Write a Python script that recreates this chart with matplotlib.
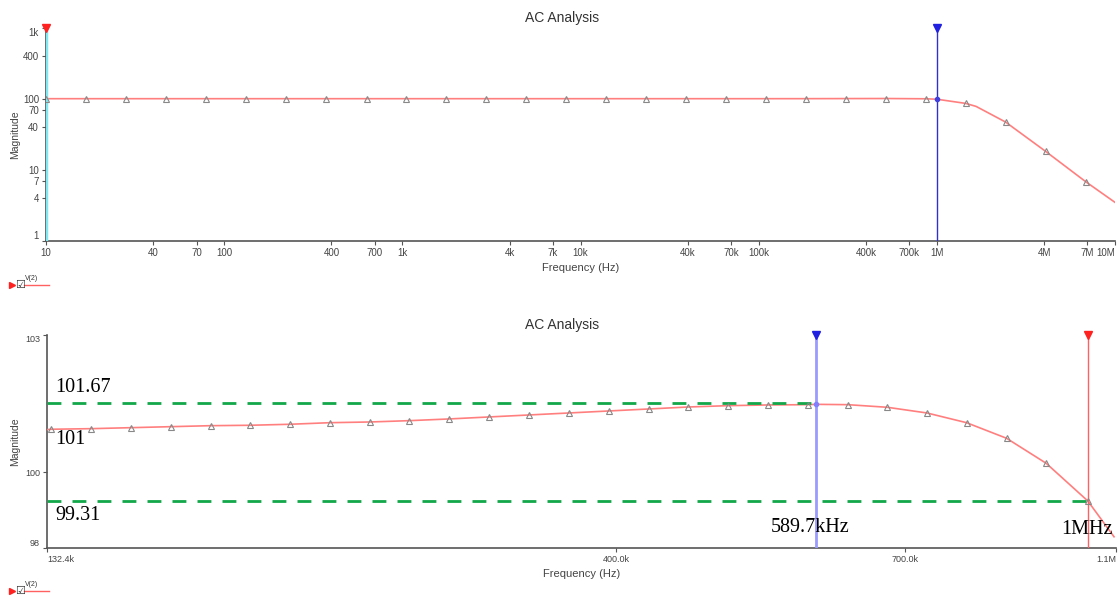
import matplotlib.pyplot as plt
from matplotlib.lines import Line2D
from matplotlib.ticker import NullLocator

plt.rcParams['font.family'] = ['Liberation Sans', 'DejaVu Sans']

# ---- top panel: full sweep (log-log) ----
top_marker_freq = [10.04, 16.86, 28.3, 47.3, 79.5, 133, 223, 375, 630, 1048, 1760, 2954,
                   4942, 8299, 13.87e3, 23.27e3, 39.08e3, 65.64e3, 109.8e3, 184.3e3,
                   309.5e3, 517.8e3, 869.6e3, 1.452e6, 2.43e6, 4.08e6, 6.85e6]
top_marker_mag = [101.0, 101.0, 101.0, 101.0, 101.0, 101.0, 101.0, 101.0, 101.0, 101.0,
                  101.0, 101.0, 101.0, 101.0, 101.0, 101.0, 101.0, 101.0, 101.02, 101.09,
                  101.35, 101.58, 100.7, 86.7, 47.4, 18.3, 6.84]
# extra trace points between markers
top_extra_freq = [10.0, 1.0e6, 1.66e6, 10.0e6]
top_extra_mag = [101.0, 99.3, 78.7, 3.5]

top_xticks = [10, 40, 70, 100, 400, 700, 1e3, 4e3, 7e3, 10e3, 40e3, 70e3, 100e3,
              400e3, 700e3, 1e6, 4e6, 7e6, 10e6]
top_xlabels = ['10', '40', '70', '100', '400', '700', '1k', '4k', '7k', '10k', '40k',
               '70k', '100k', '400k', '700k', '1M', '4M', '7M', '10M']
top_yticks = [1, 4, 7, 10, 40, 70, 100, 400, 1000]
top_ylabels = ['1', '4', '7', '10', '40', '70', '100', '400', '1k']

# ---- bottom panel: zoom around the peak ----
bot_marker_freq = [133.4e3, 144.2e3, 155.8e3, 168.3e3, 181.9e3, 196.5e3, 212.2e3, 229.3e3,
                   247.7e3, 267.6e3, 289.0e3, 312.3e3, 337.5e3, 364.7e3, 393.9e3, 425.7e3,
                   459.7e3, 496.9e3, 536.5e3, 579.9e3, 626.7e3, 676.8e3, 730.9e3, 789.3e3,
                   853.0e3, 921.2e3, 998.8e3]
bot_marker_mag = [101.03, 101.044, 101.068, 101.092, 101.116, 101.126, 101.15, 101.188,
                  101.205, 101.237, 101.278, 101.326, 101.374, 101.422, 101.47, 101.518,
                  101.566, 101.598, 101.615, 101.622, 101.622, 101.559, 101.422, 101.188,
                  100.813, 100.211, 99.303]
bot_extra_freq = [132.4e3, 589.7e3, 1.051e6]
bot_extra_mag = [101.02, 101.63, 98.44]

bot_xlim = (132.4e3, 1.055e6)
bot_ylim = (98.17, 103.3)
bot_xticks = [132.4e3, 400e3, 700e3, 1.055e6]
bot_xlabels = ['132.4k', '400.0k', '700.0k', '1.1M']
bot_yticks = [98.17, 100, 103.3]
bot_ylabels = ['98', '100', '103']

cursor_a, cursor_b = 589.7e3, 1.0e6
level_hi, level_lo = 101.67, 99.31

trace_color = '#ff7f7f'
W, H = 1119, 597
fig = plt.figure(figsize=(W / 100, H / 100), dpi=100)


def px_axes(left, top, right, bottom):
    return fig.add_axes([left / W, 1 - bottom / H, (right - left) / W, (bottom - top) / H])


def merged(f1, m1, f2, m2):
    pts = sorted(zip(list(f1) + list(f2), list(m1) + list(m2)))
    return [p[0] for p in pts], [p[1] for p in pts]


def style(ax):
    for s in ['top', 'right']:
        ax.spines[s].set_visible(False)
    for s in ['left', 'bottom']:
        ax.spines[s].set_color('#555555')
        ax.spines[s].set_linewidth(1.2)
    ax.tick_params(axis='both', labelsize=7, colors='#555555', length=3, width=0.8,
                   labelcolor='#444444', pad=2)


def no_minor(ax):
    ax.xaxis.set_minor_locator(NullLocator())
    ax.yaxis.set_minor_locator(NullLocator())


def cursor(ax, x, color, tri_color, lw=1.0):
    ax.axvline(x, color=color, lw=lw, zorder=4)
    ax.plot([x], [1.0], marker='v', color=tri_color, ms=6, transform=ax.get_xaxis_transform(),
            clip_on=False, zorder=6)


# top axes
ax1 = px_axes(46, 28, 1115, 241)
style(ax1)
ax1.set_xscale('log')
ax1.set_yscale('log')
ax1.set_xlim(10, 10e6)
ax1.set_ylim(1, 1000)
tf, tm = merged(top_marker_freq, top_marker_mag, top_extra_freq, top_extra_mag)
ax1.plot(tf, tm, color=trace_color, lw=1.2, zorder=3)
ax1.plot(top_marker_freq, top_marker_mag, ls='none', marker='^', ms=4, mfc='none',
         mec='#888888', mew=0.8, zorder=5)
ax1.set_xticks(top_xticks)
ax1.set_xticklabels(top_xlabels)
ax1.set_yticks(top_yticks)
ax1.set_yticklabels(top_ylabels)
no_minor(ax1)
ax1.get_yticklabels()[0].set_va('bottom')
ax1.get_yticklabels()[-1].set_va('top')
ax1.get_xticklabels()[-1].set_ha('right')
cursor(ax1, 10, '#80e8f0', '#ff2020', lw=2.5)
cursor(ax1, 1e6, '#3030d0', '#2020e0')
ax1.plot([1e6], [99.3], 'o', ms=3, color='#4040e0', zorder=6)
ax1.set_xlabel('Frequency (Hz)', fontsize=8, color='#444444')
ax1.set_ylabel('Magnitude', fontsize=7.5, color='#444444')
ax1.xaxis.set_label_coords(0.5, -(268 - 241) / 213, transform=ax1.transAxes)
ax1.xaxis.label.set_va('center')
ax1.yaxis.set_label_coords((15 - 46) / 1069, 0.5, transform=ax1.transAxes)
ax1.yaxis.label.set_va('center')
fig.text(562 / W, 1 - 18 / H, 'AC Analysis', ha='center', va='center', fontsize=10,
         color='#333333')

# bottom axes
ax2 = px_axes(47, 335, 1116, 548)
style(ax2)
ax2.set_xscale('log')
ax2.set_xlim(*bot_xlim)
ax2.set_ylim(*bot_ylim)
bf, bm = merged(bot_marker_freq, bot_marker_mag, bot_extra_freq, bot_extra_mag)
ax2.plot(bf, bm, color=trace_color, lw=1.2, zorder=3)
ax2.plot(bot_marker_freq, bot_marker_mag, ls='none', marker='^', ms=4, mfc='none',
         mec='#888888', mew=0.8, zorder=5)
ax2.set_xticks(bot_xticks)
ax2.set_xticklabels(bot_xlabels, fontsize=6.5)
ax2.set_yticks(bot_yticks)
ax2.set_yticklabels(bot_ylabels, fontsize=6.5)
no_minor(ax2)
ax2.get_xticklabels()[0].set_ha('left')
ax2.get_xticklabels()[-1].set_ha('right')
ax2.get_yticklabels()[0].set_va('bottom')
ax2.get_yticklabels()[-1].set_va('top')
cursor(ax2, cursor_a, '#9a9aff', '#2020e0', lw=2.0)
cursor(ax2, cursor_b, '#ff6060', '#ff2020', lw=1.0)
ax2.plot([cursor_a], [101.63], 'o', ms=3, color='#8080ff', zorder=6)

# hand-drawn level lines
ax2.plot([bot_xlim[0], cursor_a], [level_hi, level_hi], color='#12a84a', lw=2,
         dashes=(5, 4), zorder=4)
ax2.plot([bot_xlim[0], cursor_b], [level_lo, level_lo], color='#12a84a', lw=2,
         dashes=(5, 4), zorder=4)
serif = dict(family=['Liberation Serif', 'DejaVu Serif'], fontsize=14.5, color='black')
fig.text(55 / W, 1 - 388 / H, '101.67', va='center', ha='left', **serif)
fig.text(55 / W, 1 - 440 / H, '101', va='center', ha='left', **serif)
fig.text(55 / W, 1 - 516 / H, '99.31', va='center', ha='left', **serif)
fig.text(849 / W, 1 - 528 / H, '589.7kHz', va='center', ha='right', **serif)
fig.text(1113 / W, 1 - 530 / H, '1MHz', va='center', ha='right', **serif)

ax2.set_xlabel('Frequency (Hz)', fontsize=8, color='#444444')
ax2.set_ylabel('Magnitude', fontsize=7.5, color='#444444')
ax2.xaxis.set_label_coords(0.5, -(574 - 548) / 213, transform=ax2.transAxes)
ax2.xaxis.label.set_va('center')
ax2.yaxis.set_label_coords((15 - 47) / 1069, 0.5, transform=ax2.transAxes)
ax2.yaxis.label.set_va('center')
fig.text(562 / W, 1 - 325 / H, 'AC Analysis', ha='center', va='center', fontsize=10,
         color='#333333')

# legend stubs (V(2) trace toggles)
for y in (285, 591):
    fig.lines.append(Line2D([12 / W], [1 - y / H], marker='>', color='#ff2020', ms=5,
                            transform=fig.transFigure))
    fig.text(15 / W, 1 - y / H, '\u2611', fontsize=8, va='center', ha='left', color='#333333',
             family=['DejaVu Sans'])
    fig.text(25 / W, 1 - (y - 7) / H, 'V(2)', fontsize=5, va='center', ha='left',
             color='#333333')
    fig.lines.append(Line2D([24 / W, 49 / W], [1 - y / H, 1 - y / H], color='#ff6060', lw=1,
                            transform=fig.transFigure))

fig.savefig('out.png', dpi=100)
